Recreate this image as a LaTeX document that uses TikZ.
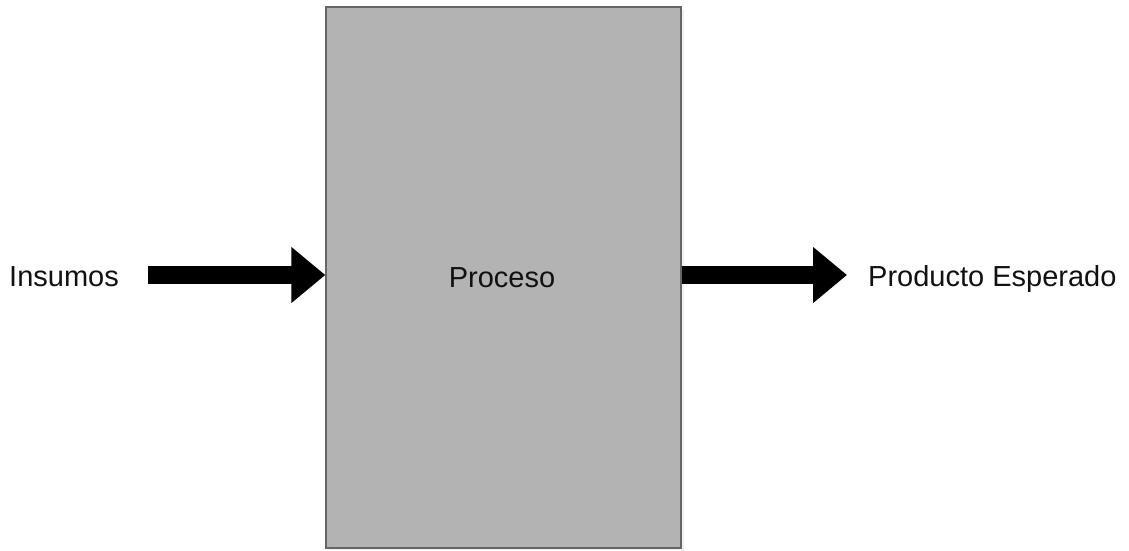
\documentclass[tikz,border=0pt]{standalone}
\usepackage{fontspec}
\setmainfont{Liberation Sans}
\usetikzlibrary{arrows.meta,positioning,shadows}
\definecolor{boxfill}{HTML}{B3B3B3}
\definecolor{boxstroke}{HTML}{666666}
\definecolor{txt}{HTML}{111111}

\begin{document}
\begin{tikzpicture}[
  x=1pt, y=-1pt,
  font=\fontsize{29}{34}\selectfont,
  box/.style={
    draw=boxstroke,
    line width=1.4pt,
    fill=boxfill,
    minimum width=355pt,
    minimum height=541pt,
    text=txt,
    drop shadow={opacity=0.12, shadow xshift=3pt, shadow yshift=-2pt}
  },
  label/.style={inner sep=0pt, text=txt},
  fat/.style={-{Triangle[length=34pt, width=54pt]}, line width=18pt, draw=black}
]
  \useasboundingbox (0,0) rectangle (1129,550);

  % Process block
  \node[box] (proc) at (503.5,277.5) {};
  \node[label, anchor=base] (proctxt) at (502,287) {Proceso};

  % Input and output texts
  \node[label, anchor=base west] (insumos) at (9,286) {Insumos};
  \node[label, anchor=base west] (producto) at (868,286) {Producto Esperado};

  % Thick arrows
  \draw[fat] (148,275) coordinate (instart) -- (instart -| proc.west);
  \draw[fat, shorten >=21pt] (proc.east |- instart) -- (producto.west |- instart);
\end{tikzpicture}
\end{document}
